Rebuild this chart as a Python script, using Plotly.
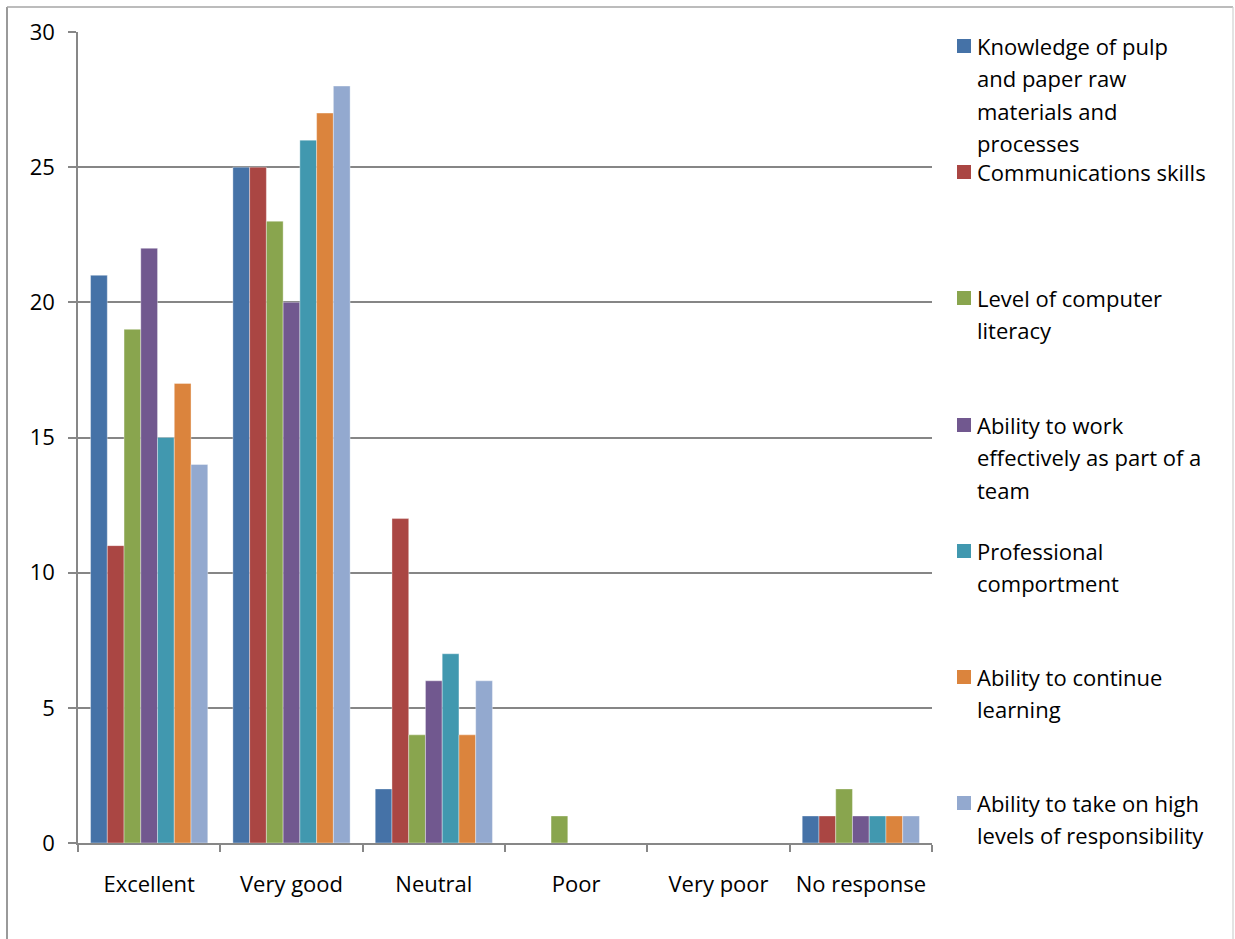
import plotly.graph_objects as go

categories = ["Excellent", "Very good", "Neutral", "Poor", "Very poor", "No response"]

knowledge = [21, 25, 2, 0, 0, 1]
communications = [11, 25, 12, 0, 0, 1]
computer = [19, 23, 4, 1, 0, 2]
teamwork = [22, 20, 6, 0, 0, 1]
professional = [15, 26, 7, 0, 0, 1]
learning = [17, 27, 4, 0, 0, 1]
responsibility = [14, 28, 6, 0, 0, 1]

series_names = [
    "Knowledge of pulp and paper raw materials and processes",
    "Communications skills",
    "Level of computer literacy",
    "Ability to work effectively as part of a team",
    "Professional comportment",
    "Ability to continue learning",
    "Ability to take on high levels of responsibility",
]
legend_lines = [
    ["Knowledge of pulp", "and paper raw", "materials and", "processes"],
    ["Communications skills"],
    ["Level of computer", "literacy"],
    ["Ability to work", "effectively as part of a", "team"],
    ["Professional", "comportment"],
    ["Ability to continue", "learning"],
    ["Ability to take on high", "levels of responsibility"],
]
series_values = [knowledge, communications, computer, teamwork, professional, learning, responsibility]
colors = ["#4572A7", "#AA4643", "#89A54E", "#71588F", "#4198AF", "#DB843D", "#93A9CF"]

W, H = 1235, 939
L, R, T, B = 78, 932, 32, 843
FONT = "Open Sans"
FS = 22


def px_x(px):
    return (px - L) / (R - L)


def px_y(py):
    return (B - py) / (B - T)


fig = go.Figure()
for name, vals, col in zip(series_names, series_values, colors):
    fig.add_trace(go.Bar(
        x=categories, y=vals, name=name, marker_color=col,
        marker_line=dict(color="rgba(255,255,255,0.45)", width=0.8),
        showlegend=False,
    ))

shapes = []
annotations = []
# outer chart border (left, top, right; runs off the bottom of the page)
shapes.append(dict(type="line", xref="paper", yref="paper",
                   x0=px_x(7), x1=px_x(7), y0=px_y(945), y1=px_y(7),
                   line=dict(color="#9A9A9A", width=2), layer="below"))
shapes.append(dict(type="line", xref="paper", yref="paper",
                   x0=px_x(7), x1=px_x(1233), y0=px_y(7), y1=px_y(7),
                   line=dict(color="#A6A6A6", width=1.5), layer="below"))
shapes.append(dict(type="line", xref="paper", yref="paper",
                   x0=px_x(1233), x1=px_x(1233), y0=px_y(945), y1=px_y(7),
                   line=dict(color="#D0D0D0", width=1.2), layer="below"))

# custom legend
item_y = [46, 172, 298, 425, 551, 677, 803]
line_pitch = 32.3
for lines, col, yc in zip(legend_lines, colors, item_y):
    shapes.append(dict(type="rect", xref="paper", yref="paper",
                       x0=px_x(957), x1=px_x(971), y0=px_y(yc + 7), y1=px_y(yc - 7),
                       fillcolor=col, line=dict(width=0)))
    for k, txt in enumerate(lines):
        annotations.append(dict(xref="paper", yref="paper", x=px_x(976),
                                y=px_y(yc + k * line_pitch), text=txt, showarrow=False,
                                xanchor="left", yanchor="middle", borderpad=0,
                                font=dict(family=FONT, size=FS, color="#000000")))

fig.update_layout(
    width=W, height=H,
    margin=dict(l=L, r=W - R, t=T, b=H - B),
    paper_bgcolor="white", plot_bgcolor="white",
    barmode="group", bargap=1.5 / 8.5, bargroupgap=0,
    font=dict(family=FONT, size=FS, color="#000000"),
    shapes=shapes, annotations=annotations,
    showlegend=False,
)
fig.update_xaxes(
    type="category", showline=True, linecolor="#878787", linewidth=1.5,
    ticks="outside", tickson="boundaries", ticklen=7, tickcolor="#878787", tickwidth=1.5,
    ticklabelstandoff=21, showgrid=False, fixedrange=True, tickangle=0, automargin=False,
    tickfont=dict(family=FONT, size=FS, color="#000000"),
)
fig.update_yaxes(
    range=[0, 30], dtick=5, showline=True, linecolor="#878787", linewidth=1.5,
    ticks="outside", ticklen=8, tickcolor="#878787", tickwidth=1.5,
    showgrid=True, gridcolor="#868686", gridwidth=1.6, zeroline=False,
    ticklabelstandoff=9, fixedrange=True, automargin=False,
    tickfont=dict(family=FONT, size=FS, color="#000000"),
)

fig.write_html("out.html")
